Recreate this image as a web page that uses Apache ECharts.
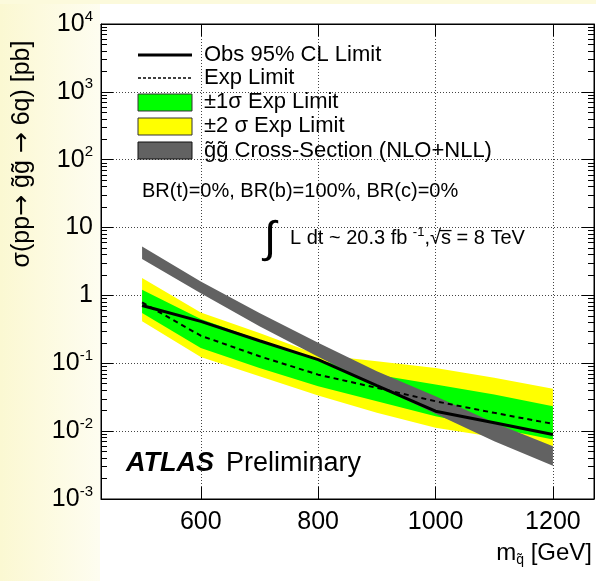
<!DOCTYPE html>
<html>
<head>
<meta charset="utf-8">
<script src="https://cdn.jsdelivr.net/npm/echarts@6/dist/echarts.min.js"></script>
<style>
  html, body { margin: 0; padding: 0; background: #fff; }
  #chart { width: 596px; height: 581px; }
</style>
</head>
<body>
<div id="chart"></div>
<script>
// Gluino pair production limits, gluino -> 3 quarks (b-quark channel)
const massPoints   = [500, 600, 700, 800, 900, 1000, 1100, 1200];          // GeV
const obsLimit     = [0.71, 0.415, 0.215, 0.113, 0.047, 0.0197, 0.0133, 0.0089]; // pb
const expLimit     = [0.79, 0.255, 0.127, 0.068, 0.0434, 0.0276, 0.0186, 0.0128];
const exp1sUp      = [1.21, 0.45, 0.22, 0.113, 0.068, 0.0486, 0.0346, 0.0233];
const exp1sDown    = [0.55, 0.168, 0.0854, 0.046, 0.0276, 0.0166, 0.0112, 0.00754];
const exp2sUp      = [1.80, 0.56, 0.279, 0.134, 0.107, 0.0854, 0.061, 0.042];
const exp2sDown    = [0.415, 0.124, 0.0644, 0.0335, 0.0186, 0.0112, 0.0082, 0.00602];
const xsecUp       = [5.25, 1.6, 0.55, 0.2, 0.076, 0.0327, 0.0133, 0.0060];
const xsecDown     = [3.45, 1.08, 0.35, 0.125, 0.046, 0.018, 0.0071, 0.0031];

const xTickValues  = [600, 800, 1000, 1200];
const yDecadeExps  = [-3, -2, -1, 0, 1, 2, 3, 4];

const FONT = '"Liberation Sans", Arial, Helvetica, sans-serif';
const SYMFONT = '"DejaVu Sans", sans-serif';

// minor log ticks 2..9 inside every decade
const yMinorTicks = [];
for (let e = yDecadeExps[0]; e < yDecadeExps[yDecadeExps.length - 1]; e++) {
  for (let k = 2; k <= 9; k++) yMinorTicks.push(+(k * Math.pow(10, e)).toPrecision(3));
}

function yLabel(v) {
  const e = Math.round(Math.log10(v));
  if (e === 0) return '{b|1}';
  if (e === 1) return '{b|10}';
  return '{b|10}{s|' + e + '}';
}

function bandSeries(name, lo, hi, color, z) {
  return {
    type: 'custom',
    name: name,
    coordinateSystem: 'cartesian2d',
    xAxisIndex: 0,
    yAxisIndex: 0,
    z: z,
    silent: true,
    data: massPoints.map((m, i) => [m, lo[i], hi[i]]),
    encode: { x: 0, y: [1, 2] },
    renderItem: function (params, api) {
      if (params.dataIndex !== 0) return null;
      const pts = [];
      for (let i = 0; i < massPoints.length; i++) pts.push(api.coord([massPoints[i], hi[i]]));
      for (let i = massPoints.length - 1; i >= 0; i--) pts.push(api.coord([massPoints[i], lo[i]]));
      return { type: 'polygon', shape: { points: pts }, style: { fill: color, stroke: null } };
    }
  };
}

const dotted = { color: '#444', width: 1, type: [1, 2] };

const xBase = {
  type: 'value', min: 430, max: 1270, minInterval: 200, maxInterval: 200,
  axisLine: { show: true, onZero: false, lineStyle: { color: '#000', width: 1 } },
  axisTick: { show: true, inside: true, length: 12, lineStyle: { color: '#000', width: 1 } },
  splitLine: { show: false }
};

const yBase = {
  type: 'log', min: 1e-3, max: 1e4, logBase: 10, splitNumber: 7,
  axisLine: { show: true, onZero: false, lineStyle: { color: '#000', width: 1 } },
  axisTick: { show: true, inside: true, length: 12, lineStyle: { color: '#000', width: 1 } },
  splitLine: { show: false }
};

const legendText = (y, text) => ({
  type: 'text', z: 20, x: 204, y: y,
  style: { text: text, font: '22px ' + FONT, fill: '#000', verticalAlign: 'middle' }
});

const chart = echarts.init(document.getElementById('chart'), null, { renderer: 'canvas' });

chart.setOption({
  backgroundColor: '#ffffff',
  animation: false,
  textStyle: { fontFamily: FONT },
  grid: {
    left: 101, top: 24, right: 2, bottom: 82,
    show: true, backgroundColor: '#ffffff', borderColor: '#000', borderWidth: 1
  },
  xAxis: [
    Object.assign({}, xBase, {
      position: 'bottom',
      splitLine: { show: true, lineStyle: dotted },
      axisLabel: {
        show: true, showMinLabel: false, showMaxLabel: false, margin: 11,
        color: '#000', fontSize: 25, fontFamily: FONT,
        formatter: v => (xTickValues.indexOf(v) >= 0 ? String(v) : '')
      }
    }),
    Object.assign({}, xBase, { position: 'top', axisLabel: { show: false } })
  ],
  yAxis: [
    Object.assign({}, yBase, {
      position: 'left',
      splitLine: { show: true, lineStyle: dotted },
      axisLabel: {
        show: true, margin: 8, color: '#000', fontFamily: FONT,
        formatter: yLabel,
        rich: {
          b: { fontSize: 25, lineHeight: 30, fontFamily: FONT, color: '#000' },
          s: { fontSize: 15, lineHeight: 16, verticalAlign: 'top', fontFamily: FONT, color: '#000' }
        }
      }
    }),
    Object.assign({}, yBase, { position: 'right', axisLabel: { show: false } }),
    Object.assign({}, yBase, {
      position: 'left', axisLine: { show: false }, axisLabel: { show: false },
      axisTick: { show: true, inside: true, length: 6, customValues: yMinorTicks, lineStyle: { color: '#000', width: 1 } }
    }),
    Object.assign({}, yBase, {
      position: 'right', axisLine: { show: false }, axisLabel: { show: false },
      axisTick: { show: true, inside: true, length: 6, customValues: yMinorTicks, lineStyle: { color: '#000', width: 1 } }
    })
  ],
  series: [
    bandSeries('±2σ Exp Limit', exp2sDown, exp2sUp, '#ffff00', 2),
    bandSeries('±1σ Exp Limit', exp1sDown, exp1sUp, '#00ff00', 3),
    bandSeries('Cross-Section (NLO+NLL)', xsecDown, xsecUp, '#626262', 4),
    {
      type: 'line', name: 'Exp Limit', xAxisIndex: 0, yAxisIndex: 0, z: 5,
      data: massPoints.map((m, i) => [m, expLimit[i]]),
      symbol: 'none', silent: true,
      lineStyle: { color: '#000', width: 2, type: [5, 4] }
    },
    {
      type: 'line', name: 'Obs 95% CL Limit', xAxisIndex: 0, yAxisIndex: 0, z: 6,
      data: massPoints.map((m, i) => [m, obsLimit[i]]),
      symbol: 'none', silent: true,
      lineStyle: { color: '#000', width: 3 }
    }
  ],
  graphic: [
    // pale margin on the left
    { type: 'rect', z: -10, silent: true, shape: { x: 0, y: 0, width: 100, height: 581 },
      style: { fill: new echarts.graphic.LinearGradient(0, 0, 1, 0, [
        { offset: 0, color: '#fbf8d2' }, { offset: 1, color: '#fefdf0' }]) } },
    { type: 'rect', z: -10, silent: true, shape: { x: 0, y: 0, width: 596, height: 4 },
      style: { fill: '#fcfadc' } },

    // y axis title
    { type: 'text', z: 20, x: 22, y: 154, rotation: Math.PI / 2,
      style: {
        text: '{t|σ(pp}{a|→}{t| g̃g̃ }{a|→}{t| 6q) [pb]}',
        align: 'center', verticalAlign: 'middle',
        rich: {
          t: { fontSize: 25, fontFamily: FONT, color: '#000', lineHeight: 30 },
          a: { fontSize: 25, fontFamily: SYMFONT, color: '#000', lineHeight: 30 }
        }
      } },
    // x axis title
    { type: 'text', z: 20, x: 592, y: 553,
      style: { text: '{m|m}{sub|q̃}{m| [GeV]}', align: 'right', verticalAlign: 'middle',
        rich: { m: { fontSize: 24, fontFamily: FONT, color: '#000', lineHeight: 28 },
                sub: { fontSize: 14, fontFamily: FONT, color: '#000', verticalAlign: 'bottom', lineHeight: 10 } } } },

    // legend
    { type: 'line', z: 20, shape: { x1: 138, y1: 55, x2: 192, y2: 55 }, style: { stroke: '#000', lineWidth: 3 } },
    { type: 'line', z: 20, shape: { x1: 138, y1: 78, x2: 192, y2: 78 }, style: { stroke: '#000', lineWidth: 1.5, lineDash: [3, 2] } },
    { type: 'rect', z: 20, shape: { x: 138, y: 94, width: 54, height: 17 }, style: { fill: '#00ff00', stroke: '#333', lineWidth: 1 } },
    { type: 'rect', z: 20, shape: { x: 138, y: 118, width: 54, height: 17 }, style: { fill: '#ffff00', stroke: '#333', lineWidth: 1 } },
    { type: 'rect', z: 20, shape: { x: 138, y: 142, width: 54, height: 17 }, style: { fill: '#626262', stroke: '#111', lineWidth: 1 } },
    legendText(55, 'Obs 95% CL Limit'),
    legendText(78, 'Exp Limit'),
    legendText(102, '±1σ Exp Limit'),
    legendText(126, '±2 σ Exp Limit'),
    legendText(151, 'g̃g̃ Cross-Section (NLO+NLL)'),

    // analysis annotations
    { type: 'text', z: 20, x: 142, y: 191, style: { text: 'BR(t)=0%, BR(b)=100%, BR(c)=0%', font: '20px ' + FONT, fill: '#000', verticalAlign: 'middle' } },
    { type: 'text', z: 20, x: 264, y: 240, style: { text: '∫', font: '44px ' + FONT, fill: '#000', verticalAlign: 'middle' } },
    { type: 'text', z: 20, x: 290, y: 238,
      style: { text: '{t|L dt ~ 20.3 fb }{s|-1}{t|,√s̅ = 8 TeV}', verticalAlign: 'middle',
        rich: { t: { fontSize: 20, fontFamily: FONT, color: '#000', lineHeight: 24 },
                s: { fontSize: 13, fontFamily: FONT, color: '#000', verticalAlign: 'top', lineHeight: 13 } } } },
    { type: 'text', z: 20, x: 126, y: 464,
      style: { text: 'ATLAS', font: 'italic bold 27px ' + FONT, fill: '#000', verticalAlign: 'middle' } },
    { type: 'text', z: 20, x: 226, y: 464,
      style: { text: 'Preliminary', font: '27px ' + FONT, fill: '#000', verticalAlign: 'middle' } }
  ]
});
</script>
</body>
</html>
